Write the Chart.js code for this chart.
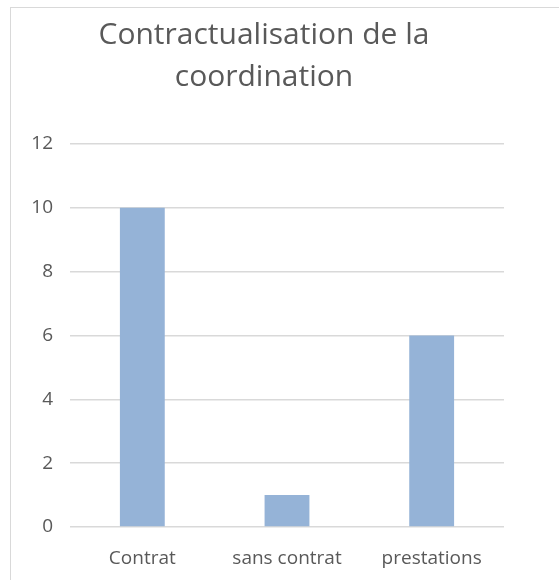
<!DOCTYPE html>
<html>
<head>
<meta charset="utf-8">
<script src="https://cdn.jsdelivr.net/npm/chart.js@4/dist/chart.umd.min.js"></script>
<style>
  html, body { margin: 0; padding: 0; background: #fff; overflow: hidden; }
  #frame {
    position: absolute; left: 10px; top: 7px;
    width: 600px; height: 600px;
    border-left: 1px solid #d9d9d9; border-top: 1px solid #d9d9d9;
  }
  #box { position: absolute; left: 0; top: 0; width: 506px; height: 572px; }
</style>
</head>
<body>
<div id="frame"><div id="box"><canvas id="chart"></canvas></div></div>
<script>
// Chart data
const categories = ['Contrat', 'sans contrat', 'prestations'];
const counts = [10, 1, 6];
const titleLines = ['Contractualisation de la', 'coordination'];

const textColor = '#595959';
const gridColor = '#d9d9d9';
const fontFamily = "'Open Sans', 'Noto Sans', sans-serif";

const ctx = document.getElementById('chart').getContext('2d');

const chart = new Chart(ctx, {
    type: 'bar',
    data: {
        labels: categories,
        datasets: [{
            data: counts,
            backgroundColor: '#95b3d7',
            borderWidth: 0,
            categoryPercentage: 0.31,
            barPercentage: 1
        }]
    },
    options: {
        responsive: true,
        maintainAspectRatio: false,
        animation: false,
        layout: {
            padding: { left: 13, right: 13, top: 0, bottom: 0 }
        },
        plugins: {
            legend: { display: false },
            tooltip: { enabled: false },
            title: {
                display: true,
                text: titleLines,
                color: textColor,
                font: { family: fontFamily, size: 30, weight: 'normal', lineHeight: 1.4 },
                padding: { top: 6, bottom: 46 }
            }
        },
        scales: {
            x: {
                grid: { display: false },
                border: { display: false },
                ticks: {
                    color: textColor,
                    font: { family: fontFamily, size: 19 },
                    padding: 12,
                    maxRotation: 0
                },
                afterFit: function(scale) { scale.height = 53; }
            },
            y: {
                min: 0,
                max: 12,
                ticks: {
                    stepSize: 2,
                    color: textColor,
                    font: { family: fontFamily, size: 19 },
                    padding: 17
                },
                grid: {
                    color: gridColor,
                    lineWidth: 1.5,
                    drawTicks: false
                },
                border: { display: false },
                afterFit: function(scale) { scale.width = 46; }
            }
        }
    }
});
</script>
</body>
</html>
